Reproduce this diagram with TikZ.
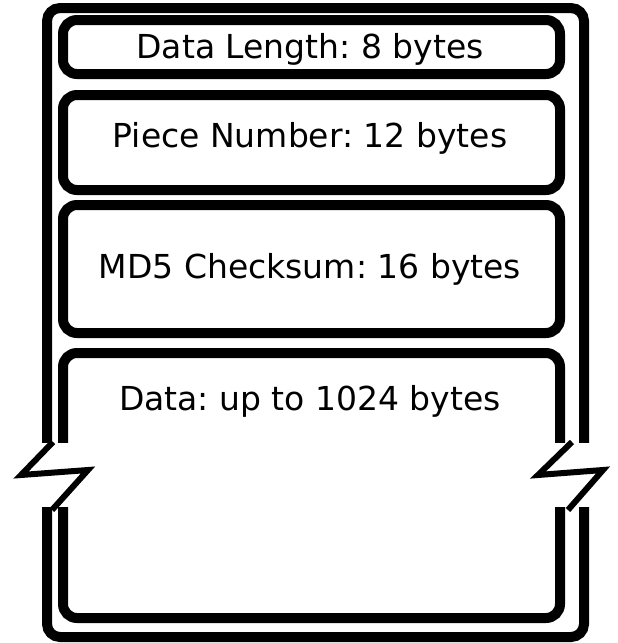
\documentclass[tikz,border=0pt]{standalone}
\usepackage{fontspec}
\setmainfont{DejaVu Sans}
\begin{document}
\frenchspacing
\begin{tikzpicture}[x=1pt,y=-1pt,
  field/.style={draw=black, line width=10pt, rounded corners=14pt, rectangle, inner sep=0pt, minimum width=497pt},
  outerbox/.style={draw=black, line width=10pt, rounded corners=13pt},
  lbl/.style={font=\fontsize{33}{40}\selectfont, inner sep=0pt},
  brk/.style={draw=black, line width=6pt, miter limit=10}]
\useasboundingbox (0,0) rectangle (618,643);
% outer frame
\draw[outerbox] (47,8) rectangle (584,637);
% fields
\node[field, minimum height=54pt] (len) at (311.5,47) {};
\node[lbl] (lenT) at (310,49) {Data Length: 8 bytes};
\node[field, minimum height=95pt] (piece) at (311.5,142.5) {};
\node[lbl] (pieceT) at (310,138) {Piece Number: 12 bytes};
\node[field, minimum height=128pt] (md5) at (311.5,269) {};
\node[lbl] (md5T) at (310,269) {MD5 Checksum: 16 bytes};
\node[field, minimum height=265pt] (data) at (311.5,485.5) {};
\node[lbl] (dataT) at (310,401) {Data: up to 1024 bytes};
% break gaps
\fill[white] (36,443) rectangle (74,507);
\fill[white] (549,443) rectangle (596,507);
% break marks
\draw[brk] (53,442) -- (21,475) -- (88,470) -- (52,510);
\draw[brk] (572,442) -- (538,475) -- (603,470) -- (568,510);
\end{tikzpicture}
\end{document}
